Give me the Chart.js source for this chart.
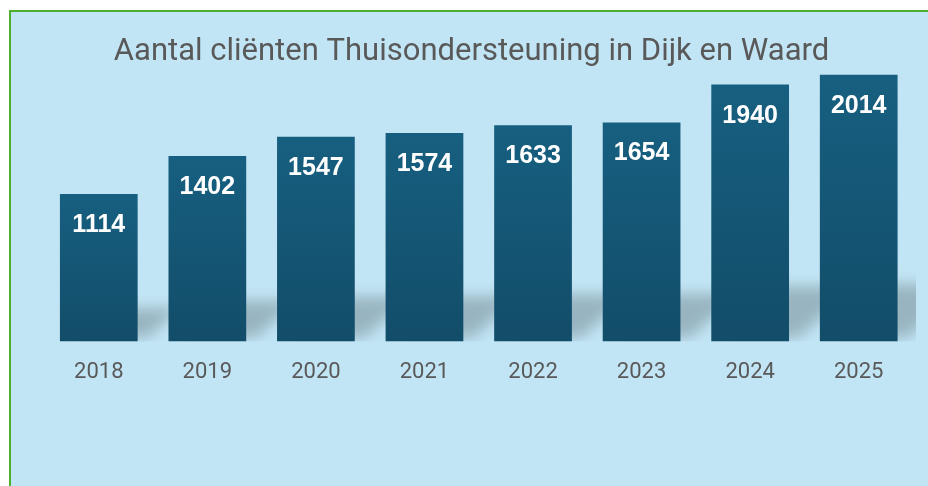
<!DOCTYPE html>
<html lang="nl">
<head>
  <meta charset="UTF-8">
  <title>Aantal cliënten Thuisondersteuning in Dijk en Waard</title>
  <script src="https://cdn.jsdelivr.net/npm/chart.js"></script>
  <style>
    body {
      margin: 0;
      background: #fff;
    }
    #wrap {
      position: absolute;
      left: 9px;
      top: 10px;
      width: 917px;
      height: 474px;
      border-left: 2px solid #4fae2e;
      border-top: 2px solid #4fae2e;
      background: #c2e5f5;
    }
  </style>
</head>
<body>

<div id="wrap">
  <canvas id="chart" width="917" height="474"></canvas>
</div>

<script>
  const years = ['2018', '2019', '2020', '2021', '2022', '2023', '2024', '2025'];
  const clients = [1114, 1402, 1547, 1574, 1633, 1654, 1940, 2014];

  // soft perspective shadow behind the bars
  const barShadow = {
    id: 'barShadow',
    beforeDatasetsDraw(chart) {
      const ctx = chart.ctx;
      const area = chart.chartArea;
      const bars = chart.getDatasetMeta(0).data;
      ctx.save();
      ctx.beginPath();
      ctx.rect(area.left, area.top, area.right - area.left + 3, area.bottom - area.top);
      ctx.clip();
      ctx.filter = 'blur(7px)';
      ctx.fillStyle = 'rgba(0, 0, 0, 0.21)';
      ctx.beginPath();
      bars.forEach(bar => {
        const h = bar.base - bar.y;
        const half = bar.width / 2;
        const lift = h * 0.2;
        const skew = h * 0.22;
        ctx.moveTo(bar.x - half + 10, bar.base - 4);
        ctx.lineTo(bar.x + half + 10, bar.base - 4);
        ctx.lineTo(bar.x + half + 10 + skew, bar.base - 4 - lift);
        ctx.lineTo(bar.x - half + 10 + skew, bar.base - 4 - lift);
        ctx.closePath();
      });
      ctx.fill();
      ctx.restore();
    }
  };

  // white value labels inside the top of each bar
  const valueLabels = {
    id: 'valueLabels',
    afterDatasetsDraw(chart) {
      const ctx = chart.ctx;
      const bars = chart.getDatasetMeta(0).data;
      ctx.save();
      ctx.fillStyle = '#ffffff';
      ctx.font = 'bold 25px "Liberation Sans", Arial, sans-serif';
      ctx.textAlign = 'center';
      ctx.textBaseline = 'middle';
      bars.forEach((bar, i) => {
        ctx.fillText(String(clients[i]), bar.x, bar.y + 31);
      });
      ctx.restore();
    }
  };

  const ctx = document.getElementById('chart').getContext('2d');

  new Chart(ctx, {
    type: 'bar',
    data: {
      labels: years,
      datasets: [{
        data: clients,
        backgroundColor: function (context) {
          const chart = context.chart;
          const y = chart.scales.y;
          if (!chart.chartArea || !y || context.raw === undefined) return '#155a79';
          const top = y.getPixelForValue(context.raw);
          const bottom = y.getPixelForValue(0);
          if (!isFinite(top) || !isFinite(bottom)) return '#155a79';
          const g = chart.ctx.createLinearGradient(0, top, 0, bottom);
          g.addColorStop(0, '#175f80');
          g.addColorStop(1, '#124d69');
          return g;
        },
        borderWidth: 0,
        categoryPercentage: 1,
        barPercentage: 0.716
      }]
    },
    options: {
      responsive: false,
      animation: false,
      layout: {
        padding: { left: 19, right: 15, top: 0, bottom: 82 }
      },
      scales: {
        x: {
          grid: { display: false, drawTicks: false },
          border: { display: false },
          ticks: {
            color: '#595959',
            font: { family: 'Roboto', size: 22 },
            padding: 18
          }
        },
        y: {
          min: 0,
          max: 2030,
          grid: { display: false, drawTicks: false },
          border: { display: false },
          ticks: { display: false },
          afterFit(scale) { scale.width = 14.5; }
        }
      },
      plugins: {
        legend: { display: false },
        tooltip: { enabled: false },
        title: {
          display: true,
          text: 'Aantal cliënten Thuisondersteuning in Dijk en Waard',
          color: '#595959',
          font: { family: 'Roboto', size: 31, weight: 'normal' },
          padding: { top: 22, bottom: 1.5 }
        }
      }
    },
    plugins: [barShadow, valueLabels]
  });
</script>

</body>
</html>
